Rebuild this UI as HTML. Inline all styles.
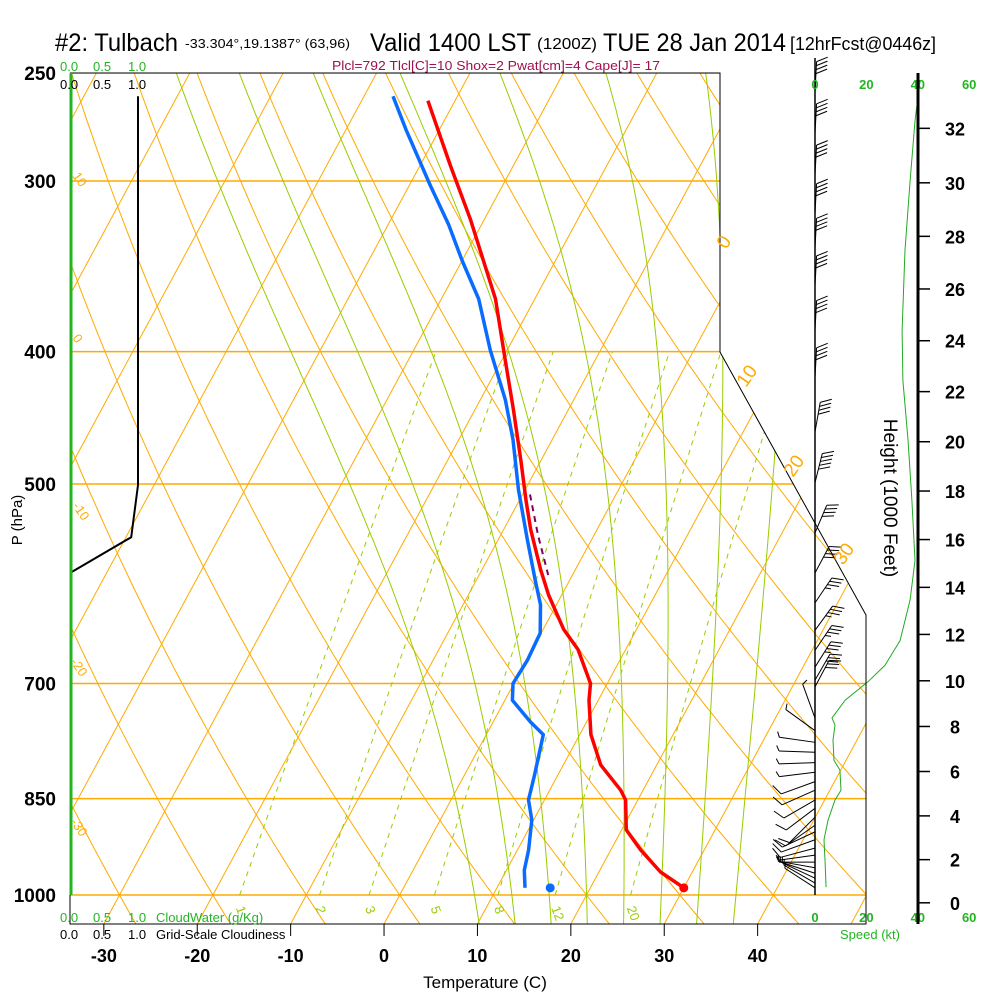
<!DOCTYPE html>
<html><head><meta charset="utf-8"><title>Skew-T Tulbach</title>
<style>
html,body{margin:0;padding:0;background:#fff;}
svg{display:block;font-family:"Liberation Sans Narrow","Liberation Sans",sans-serif;}
</style></head>
<body>
<svg id="chart" width="1000" height="1000" viewBox="0 0 1000 1000" xmlns="http://www.w3.org/2000/svg">
<defs><clipPath id="plotclip"><polygon points="70,73 720,73 720,352 866,615 866,924 70,924"/></clipPath></defs>
<rect x="0" y="0" width="1000" height="1000" fill="#fff"/>
<g id="grid" clip-path="url(#plotclip)"></g>
<g id="series"></g>
<g id="frame">
<polyline points="70,73 720,73 720,352 866,615 866,924 70,924 70,73" fill="none" stroke="#000" stroke-width="1"/>
<line x1="71" y1="73" x2="71" y2="895" stroke="#22b522" stroke-width="3"/>
</g>
<g id="texts" fill="#000">
<text x="55" y="51" font-size="25" textLength="123" lengthAdjust="spacingAndGlyphs">#2: Tulbach</text>
<text x="185" y="48" font-size="13" textLength="165" lengthAdjust="spacingAndGlyphs">-33.304°,19.1387° (63,96)</text>
<text x="370" y="51" font-size="25" textLength="161" lengthAdjust="spacingAndGlyphs">Valid 1400 LST</text>
<text x="537" y="49" font-size="16" textLength="60" lengthAdjust="spacingAndGlyphs">(1200Z)</text>
<text x="603" y="51" font-size="25" textLength="183" lengthAdjust="spacingAndGlyphs">TUE 28 Jan 2014</text>
<text x="790" y="50" font-size="18" textLength="146" lengthAdjust="spacingAndGlyphs">[12hrFcst@0446z]</text>
<text x="332" y="70" font-size="13" fill="#a0104f" textLength="328" lengthAdjust="spacingAndGlyphs">Plcl=792 Tlcl[C]=10 Shox=2 Pwat[cm]=4 Cape[J]= 17</text>
<text x="60" y="71" font-size="13" fill="#22b522"><tspan x="60">0.0</tspan><tspan x="93">0.5</tspan><tspan x="128">1.0</tspan></text>
<text x="60" y="89" font-size="13"><tspan x="60">0.0</tspan><tspan x="93">0.5</tspan><tspan x="128">1.0</tspan></text>
<text x="60" y="922" font-size="13" fill="#22b522"><tspan>0.0</tspan><tspan x="93">0.5</tspan><tspan x="128">1.0</tspan><tspan x="156">CloudWater (g/Kg)</tspan></text>
<text x="60" y="939" font-size="13"><tspan>0.0</tspan><tspan x="93">0.5</tspan><tspan x="128">1.0</tspan><tspan x="156">Grid-Scale Cloudiness</tspan></text>
<text transform="translate(22,520) rotate(-90)" text-anchor="middle" font-size="15">P (hPa)</text>
<text x="485" y="988" text-anchor="middle" font-size="17">Temperature (C)</text>
<text transform="translate(884,498) rotate(90)" text-anchor="middle" font-size="19">Height (1000 Feet)</text>
<text x="870" y="939" text-anchor="middle" font-size="13" fill="#22b522">Speed (kt)</text>
</g>
<g id="axes"></g>
<script>
// ---------- data ----------
const pLevels = [250, 300, 400, 500, 700, 850, 1000];
const tempTicks = [-30, -20, -10, 0, 10, 20, 30, 40];
const tempP = [988,962,927,896,852,838,803,763,720,700,661,639,603,578,540,514,480,441,406,366,320,292,262];
const tempT = [30.0,26.6,23.2,20.5,18.7,17.6,14.0,11.2,9.0,8.2,4.9,2.2,-1.4,-3.7,-7.1,-9.3,-12.2,-15.9,-19.6,-24.2,-31.5,-36.8,-42.9];
const dewP = [988,959,927,881,852,817,763,747,720,700,673,643,613,588,549,505,464,434,399,366,343,323,302,275,260];
const dewT = [13.0,11.9,11.2,9.8,8.3,7.5,6.1,4.0,0.8,-0.1,0.1,-0.1,-1.7,-3.7,-6.9,-10.7,-14.2,-17.3,-21.8,-26.0,-30.0,-33.5,-37.8,-43.6,-46.9];
const surfP = 988, surfT = 30.0, surfTd = 15.7;
const parcelP = [509, 545, 583];
const parcelT = [-9.2, -6.0, -2.6];
const isotherms = [-130,-120,-110,-100,-90,-80,-70,-60,-50,-40,-30,-20,-10,0,10,20,30,40,50];
const dryThetas = [-40,-30,-20,-10,0,10,20,30,40,50,60,70,80,90,100,110,120,130,140,150];
const moistThetaW = [8,12,16,20,24,28,32,36];
const mixRatios = [1,2,3,5,8,12,20];
const mixLabels = ["1","2","3","5","8","12","20"];
const cloudP = [260, 501, 547, 581];
const cloudFrac = [1.0, 1.0, 0.9, 0.0];
const speedP = [987,943,911,881,852,838,810,797,770,751,742,720,698,679,651,608,569,514,464,420,386,337,300,271,253];
const speedKt = [4.3,3.9,3.5,5.1,7.8,10.1,9.7,7.4,7.0,7.8,6.6,11.7,20.6,27.2,33.1,37,38.9,37.7,36.2,34.2,33.9,35,37,38.9,40.9];
const speedTicks = [0, 20, 40, 60];
const heightTicks = [0,2,4,6,8,10,12,14,16,18,20,22,24,26,28,30,32];
const barbP = [258,277,297,317,336,358,386,418, 458,499,543,581,611,640,662,681,696,704, 742,758,773,786,800,813,826,838,852,864,877,889,899,911,924,935,946,955,964,972,980,988];
const barbDir = [3,3,3,3,3,3,3,3, 10,14,23,28,34,36,34,32,30,28, 340,306,278,272,268,263,250,246,240,233,225,235,245,250,255,262,270,280,288,295,300,303];
const barbSpd = [40,40,40,40,40,40,40,40, 40,50,40,40,35,35,35,35,30,30, 5,5,5,5,5,5,10,10,10,10,10,10,10,10,10,5,5,5,5,5,5,5];

// ---------- axis functions ----------
function yP(p){ return 895 - 593*Math.log(1000/p); }
function xT(T,p){ return 399.7 + 9.34*T + (895 - yP(p))*0.54; }
function xTy(T,y){ return 399.7 + 9.34*T + (895 - y)*0.54; }
function xSpd(s){ return 815 + 2.57*s; }
function xCloud(c){ return 70 + 68*c; }
function pFromFt(kft){ return 1013.25*Math.pow(1 - 6.8756e-6*kft*1000, 5.2559); }

const NS = "http://www.w3.org/2000/svg";
function mk(tag, attrs, parent){
  const e = document.createElementNS(NS, tag);
  for (const k in attrs) e.setAttribute(k, attrs[k]);
  parent.appendChild(e); return e;
}
const grid = document.getElementById('grid');
const series = document.getElementById('series');
const axes = document.getElementById('axes');
function pts(arr){ return arr.map(a=>a[0].toFixed(1)+","+a[1].toFixed(1)).join(" "); }

pLevels.forEach(p=>{
  const l = mk('line',{x1:70,x2:866,y1:yP(p),y2:yP(p),stroke:'#ffaa00','stroke-width':1.5},grid);
  
  
});
isotherms.forEach(T=>{
  const l = mk('line',{x1:xTy(T,924),y1:924,x2:xTy(T,60),y2:60,stroke:'#ffaa00','stroke-width':1},grid);
  
  
});
dryThetas.forEach(th=>{
  const a=[];
  for(let p=1060;p>=240;p-=10){ const T=(th+273.15)*Math.pow(p/1000,0.286)-273.15; a.push([xT(T,p),yP(p)]); }
  const l = mk('polyline',{points:pts(a),fill:'none',stroke:'#ffaa00','stroke-width':1},grid);
  
  
});
function es(Tc){ return 6.112*Math.exp(17.67*Tc/(Tc+243.5)); }
function moistRate(TK,p){
  const Rd=287.04, cp=1005.7, Lv=2.501e6, eps=0.622;
  const e=es(TK-273.15); const rs=eps*e/(p-e);
  return (Rd*TK + Lv*rs)/(p*(cp + Lv*Lv*rs*eps/(Rd*TK*TK)));
}
moistThetaW.forEach(tw=>{
  const a=[];
  let T=tw+273.15, p=1000;
  let Td=T; for(let pp=1000; pp<1060; pp+=2){ Td+=moistRate(Td,pp)*2; }
  T=Td; p=1060;
  while(p>=240){ a.push([xT(T-273.15,p),yP(p)]); T-=moistRate(T,p)*2; p-=2; }
  const l = mk('polyline',{points:pts(a),fill:'none',stroke:'#99cc00','stroke-width':1},grid);
  
  
});
mixRatios.forEach((w,i)=>{
  const a=[];
  for(let p=1000;p>=400;p-=10){
    const e=w*p/(622+w); const L=Math.log(e/6.112); const Td=243.5*L/(17.67-L);
    a.push([xT(Td,p),yP(p)]);
  }
  const l = mk('polyline',{points:pts(a),fill:'none',stroke:'#99cc00','stroke-width':1,'stroke-dasharray':'5,5'},grid);
  
  
  const e0=w*1000/(622+w); const L0=Math.log(e0/6.112); const Td0=243.5*L0/(17.67-L0);
  const x0=xT(Td0,1000)-4;
  const t = mk('text',{x:0,y:0,transform:'translate('+x0+',908) rotate(70)','font-size':13,fill:'#99cc00'},axes);
  t.textContent=mixLabels[i];
  
  
});
[["10",72,176],["0",72,338],["-10",72,506],["-20",70,662],["-30",70,822]].forEach(d=>{
  const t=mk('text',{transform:'translate('+d[1]+','+d[2]+') rotate(55)','font-size':13,fill:'#ffaa00'},axes);
  t.textContent=d[0];
  
  
});
[["0",726,250],["10",746,388],["20",793,478],["30",843,566]].forEach(d=>{
  const t=mk('text',{transform:'translate('+d[1]+','+d[2]+') rotate(-55)','font-size':19,fill:'#ffaa00'},axes);
  t.textContent=d[0];
  
  
});

{
  const a=cloudP.map((p,i)=>[xCloud(cloudFrac[i]),yP(p)]);
  const l=mk('polyline',{points:pts(a),fill:'none',stroke:'#000','stroke-width':2},series);
  
  
}
{
  const a=tempP.map((p,i)=>[xT(tempT[i],p),yP(p)]);
  const l=mk('polyline',{points:pts(a),fill:'none',stroke:'#ff0000','stroke-width':3.5,'stroke-linejoin':'round'},series);
  
  
  const b=dewP.map((p,i)=>[xT(dewT[i],p),yP(p)]);
  const l2=mk('polyline',{points:pts(b),fill:'none',stroke:'#0a6cff','stroke-width':3.5,'stroke-linejoin':'round'},series);
  
  
  const c=parcelP.map((p,i)=>[xT(parcelT[i],p),yP(p)]);
  const l3=mk('polyline',{points:pts(c),fill:'none',stroke:'#800060','stroke-width':2,'stroke-dasharray':'6,5'},series);
  
  
  const d1=mk('circle',{cx:xT(surfT,surfP),cy:yP(surfP),r:4.5,fill:'#ff0000'},series);
  
  
  const d2=mk('circle',{cx:xT(surfTd,surfP),cy:yP(surfP),r:4.5,fill:'#0a6cff'},series);
  
  
}
{
  const a=speedP.map((p,i)=>[xSpd(speedKt[i]),yP(p)]);
  const l=mk('polyline',{points:pts(a),fill:'none',stroke:'#22aa22','stroke-width':1},series);
  
  
}
{
  const l=mk('line',{x1:815,y1:58,x2:815,y2:895,stroke:'#000','stroke-width':1.5},series);
  
  
}
barbP.forEach((p,i)=>{
  const g=mk('g',{stroke:'#000','stroke-width':1,fill:'none'},series);
  
  
  const L = i<18?30:36;
  const ang=barbDir[i]*Math.PI/180;
  const bx=815, by=yP(p);
  const dx=Math.sin(ang), dy=-Math.cos(ang);
  const tx=bx+dx*L, ty=by+dy*L;
  mk('line',{x1:bx,y1:by,x2:tx,y2:ty},g);
  const ba=(barbDir[i]+65)*Math.PI/180;
  const ux=Math.sin(ba), uy=-Math.cos(ba);
  let s=barbSpd[i], k=0;
  while(s>=10){ const sx=tx-dx*4*k, sy=ty-dy*4*k; mk('line',{x1:sx,y1:sy,x2:sx+ux*12,y2:sy+uy*12},g); s-=10; k++; }
  if(s>=5){ const sx=tx-dx*4*k, sy=ty-dy*4*k; mk('line',{x1:sx,y1:sy,x2:sx+ux*6,y2:sy+uy*6},g); }
});

pLevels.forEach(p=>{
  const t=mk('text',{x:56,y:yP(p)+7,'text-anchor':'end','font-size':19,'font-weight':'bold'},axes);
  t.textContent=String(p);
  
  
});
tempTicks.forEach(T=>{
  const x=xTy(T,924);
  const l=mk('line',{x1:x,y1:924,x2:x,y2:936,stroke:'#000','stroke-width':1},axes);
  
  
  const t=mk('text',{x:x,y:962,'text-anchor':'middle','font-size':18,'font-weight':'bold'},axes);
  t.textContent=String(T);
  
  
});
speedTicks.forEach(s=>{
  [89,922].forEach(y=>{
    const t=mk('text',{x:xSpd(s),y:y,'text-anchor':'middle','font-size':13,fill:'#22b522','font-weight':'bold'},axes);
    t.textContent=String(s);
    
    
  });
});
{
  const l=mk('line',{x1:918,y1:73,x2:918,y2:924,stroke:'#000','stroke-width':3},axes);
  
  
}
heightTicks.forEach(h=>{
  const y=yP(pFromFt(h));
  const l=mk('line',{x1:918,y1:y,x2:930,y2:y,stroke:'#000','stroke-width':1.5},axes);
  
  
  const t=mk('text',{x:955,y:y+7,'text-anchor':'middle','font-size':18,'font-weight':'bold'},axes);
  t.textContent=String(h);
  
  
});
</script>
</svg>
</body></html>
